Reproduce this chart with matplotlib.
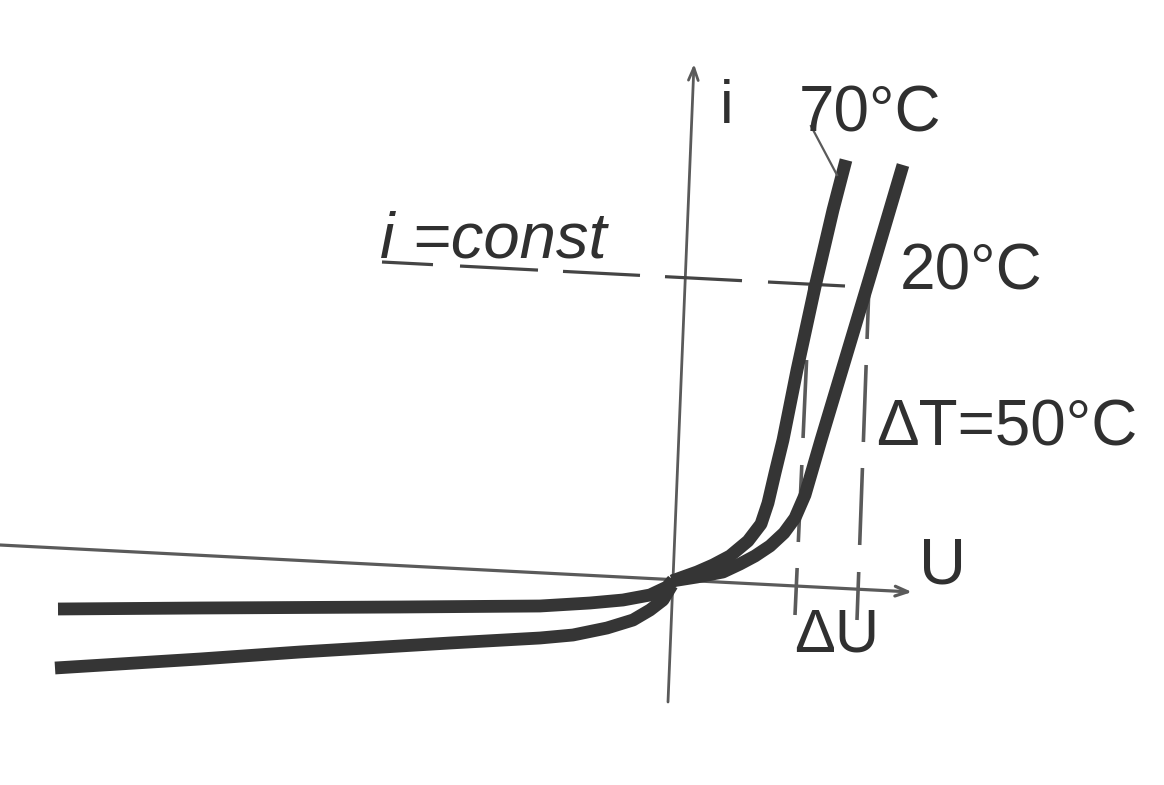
import numpy as np
import matplotlib
matplotlib.use('Agg')
import matplotlib.pyplot as plt

plt.rcParams['font.family'] = ['Liberation Sans', 'DejaVu Sans']

# Diagram values (page units, y grows downwards)
# forward branches of the diode curves
fwd_70_x = [846, 833, 815, 797, 783, 775, 768, 761, 748, 730, 713, 697, 683, 672]
fwd_70_y = [160, 210, 287, 370, 440, 473, 503, 524, 541, 556, 565, 572, 577, 581]
fwd_20_x = [903, 869, 845, 821, 805, 795, 784, 770, 755, 740, 723, 697, 672]
fwd_20_y = [165, 280, 360, 440, 495, 518, 533, 546, 556, 564, 572, 577, 581]

# reverse branches
rev_20_x = [58, 200, 400, 540, 590, 623, 650, 667, 673]
rev_20_y = [609, 608, 607, 606, 603, 600, 595, 587, 580]
rev_70_x = [55, 200, 300, 450, 540, 573, 607, 633, 650, 663, 672]
rev_70_y = [668, 659, 652, 643, 638, 635, 628, 620, 610, 600, 585]

# axes of the diagram
u_axis_x = [0, 912]
u_axis_y = [545, 592]
i_axis_x = [668, 694]
i_axis_y = [702, 64]

# dashed guide lines: end points and dash ranges
const_x = [382, 845]
const_y = [262, 286]
const_dashes = [(382, 433), (460, 538), (563, 640), (665, 742), (768, 845)]

du_left_x = [810, 795]
du_left_y = [285, 615]
du_left_dashes = [(285, 338), (360, 438), (465, 542), (568, 615)]
du_right_x = [869, 857]
du_right_y = [285, 620]
du_right_dashes = [(285, 339), (365, 442), (468, 545), (572, 620)]

# labels: text, x, y (baseline), size, style
labels = [
    ('i', 720, 123, 44, 'normal'),
    ('70°C', 799, 132, 46, 'normal'),
    ('20°C', 900, 289, 46, 'normal'),
    ('ΔT=50°C', 876, 446, 46, 'normal'),
    ('U', 919, 584, 47, 'normal'),
    ('ΔU', 794, 651, 44, 'normal'),
    ('i =const', 380, 258, 47, 'italic'),
]
leader_x = [811, 837]
leader_y = [126, 175]

curve_color = '#353535'
thin_color = '#5a5a5a'

fig = plt.figure(figsize=(11.64, 7.85), dpi=100)
ax = fig.add_axes([0, 0, 1, 1])
ax.set_xlim(0, 1164)
ax.set_ylim(785, 0)
ax.axis('off')

# axes with arrow heads
ax.annotate('', xy=(u_axis_x[1], u_axis_y[1]), xytext=(u_axis_x[0], u_axis_y[0]),
            arrowprops=dict(arrowstyle='->,head_length=0.9,head_width=0.35',
                            lw=2.3, color=thin_color, shrinkA=0, shrinkB=0), zorder=1)
ax.annotate('', xy=(i_axis_x[1], i_axis_y[1]), xytext=(i_axis_x[0], i_axis_y[0]),
            arrowprops=dict(arrowstyle='->,head_length=0.9,head_width=0.35',
                            lw=2.0, color=thin_color, shrinkA=0, shrinkB=0), zorder=1)


def dashed(xs, ys, dashes, along='x', lw=2.4):
    # draw each dash on the straight line through the two end points
    for a, b in dashes:
        seg = np.array([a, b], dtype=float)
        if along == 'x':
            yy = np.interp(seg, xs, ys)
            ax.plot(seg, yy, color='#444444', lw=lw, solid_capstyle='butt', zorder=2)
        else:
            xx = np.interp(seg, ys, xs)
            ax.plot(xx, seg, color=thin_color, lw=lw, solid_capstyle='butt', zorder=2)


dashed(const_x, const_y, const_dashes, 'x', lw=2.3)
dashed(du_left_x, du_left_y, du_left_dashes, 'y', lw=2.6)
dashed(du_right_x, du_right_y, du_right_dashes, 'y', lw=2.6)

# diode curves
for xs, ys in [(fwd_70_x, fwd_70_y), (fwd_20_x, fwd_20_y),
               (rev_20_x, rev_20_y), (rev_70_x, rev_70_y)]:
    ax.plot(xs, ys, color=curve_color, lw=9.2, solid_capstyle='butt',
            solid_joinstyle='round', zorder=3)

# leader line to the 70°C curve
ax.plot(leader_x, leader_y, color=thin_color, lw=1.6, zorder=4)

for txt, x, y, size, style in labels:
    ax.text(x, y, txt, fontsize=size, fontstyle=style, color='#303030',
            ha='left', va='baseline', zorder=5)

fig.savefig('out.png', dpi=100, facecolor='white')
